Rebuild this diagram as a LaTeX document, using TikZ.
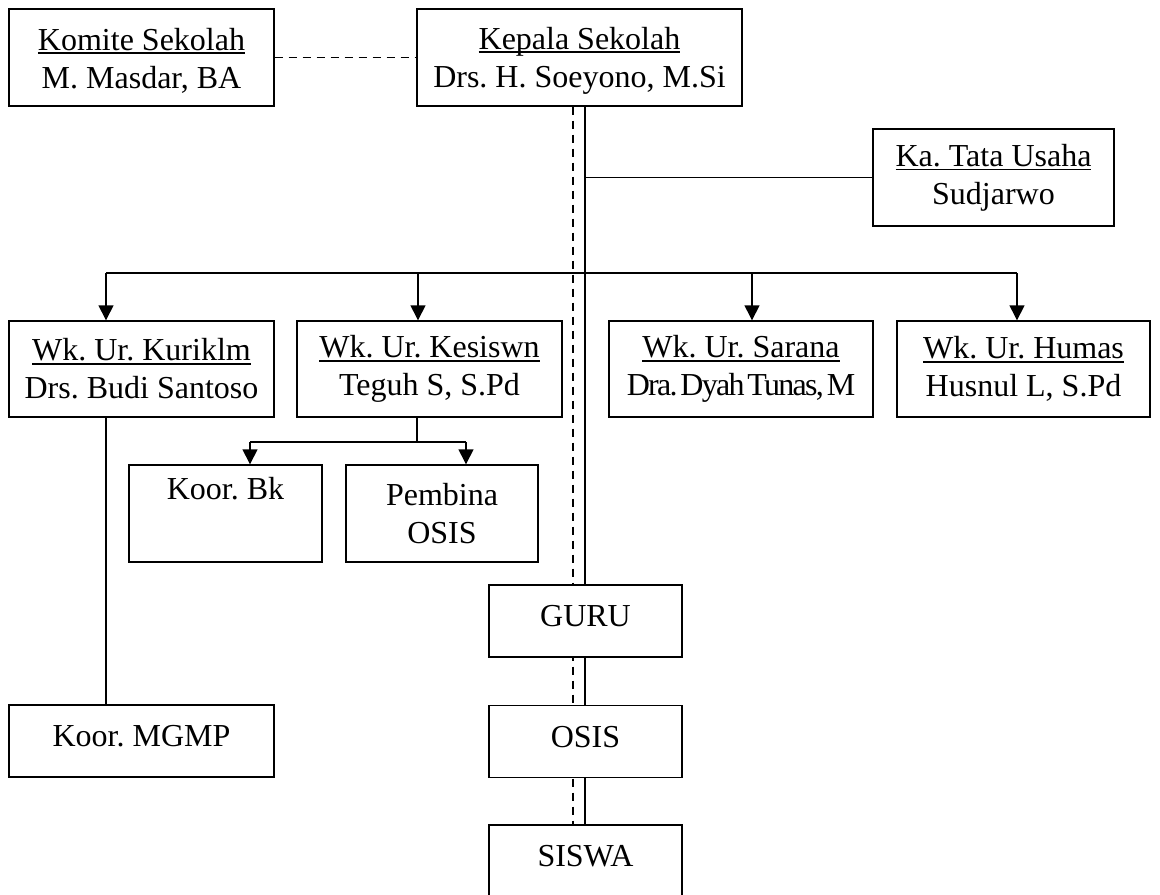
\documentclass[tikz,border=0pt]{standalone}
\usepackage{fontspec}
\usepackage{graphicx}
\setmainfont{Liberation Serif}
\usetikzlibrary{arrows.meta,backgrounds}
\newcommand\ulx[1]{\setbox0\hbox{#1}\rlap{\rule[-2pt]{\wd0}{0.8pt}}\box0}
\frenchspacing
\begin{document}
\begin{tikzpicture}[x=0.5pt,y=-0.5pt,
  box/.style={draw, line width=0.7pt, fill=white, align=center, inner sep=0pt,
    font=\fontsize{16}{19}\selectfont\frenchspacing},
  one/.style={text depth=5pt},
  sz/.style 2 args={minimum width=#1*0.5pt, minimum height=#2*0.5pt},
  ln/.style={line width=0.7pt},
  dsh/.style={line width=0.7pt, dash pattern=on 4pt off 3pt},
  arr/.style={line width=0.7pt, -{Triangle[length=7.5pt,width=7.5pt]}}
]
\useasboundingbox (0,0) rectangle (1160,894);

% boxes
\node[box, sz={265}{97}] (kom) at (141.5,57.5) {\rule{0pt}{14pt}\ulx{Komite Sekolah}\\M. Masdar, BA};
\node[box, sz={325}{97}] (kep) at (579.5,57.5) {\rule{0pt}{14pt}\ulx{Kepala Sekolah}\\Drs. H. Soeyono, M.Si};
\node[box, sz={241}{97}] (tu) at (993.5,177.5) {\ulx{Ka. Tata Usaha}\\Sudjarwo};
\node[box, sz={265}{96}] (kur) at (141.5,369) {\ulx{Wk. Ur. Kuriklm}\\Drs. Budi Santoso};
\node[box, sz={265}{96}] (kes) at (429.5,369) {\ulx{Wk. Ur. Kesiswn}\\Teguh S, S.Pd};
\node[box, sz={264}{96}] (sar) at (741,369) {\ulx{Wk. Ur. Sarana}\\{\addfontfeatures{LetterSpace=-5.5}\spaceskip=1.5pt Dra. Dyah Tunas, M}};
\node[box, sz={253}{96}] (hum) at (1023.5,369) {\ulx{Wk. Ur. Humas}\\Husnul L, S.Pd};
\node[box, sz={193}{97}] (bk) at (225.5,513.5) {Koor. Bk\\\strut};
\node[box, sz={192}{97}] (pem) at (442,513.5) {Pembina\\OSIS};
\node[box, one, sz={265}{72}] (mgmp) at (141.5,741) {Koor. MGMP};
\node[box, one, sz={193}{72}] (guru) at (585.5,621) {GURU};
\node[box, one, sz={193}{72}] (osis) at (585.5,741.5) {OSIS};
\node[box, one, sz={193}{72}] (siswa) at (585.5,861) {SISWA};

% helper coordinates
\coordinate (dx) at (573,0);
\coordinate (sx) at (585,0);
\coordinate (b1) at (106,273);
\coordinate (b2) at (418,273);
\coordinate (b3) at (752,273);
\coordinate (b4) at (1017,273);
\coordinate (kesd) at (417,442);
\coordinate (c1) at (250,442);
\coordinate (c2) at (466,442);

\begin{scope}[on background layer]
  \draw[dsh] (kom.east) -- (kep.west);
  \draw[dsh] (dx |- kep.south) -- (dx |- siswa.north);
  \draw[ln] (sx |- kep.south) -- (sx |- siswa.north);
  \draw[ln] (sx |- tu.west) -- (tu.west);
  \draw[ln] (b1) -- (b4);
  \draw[arr] (b1) -- (b1 |- kur.north);
  \draw[arr] (b2) -- (b2 |- kes.north);
  \draw[arr] (b3) -- (b3 |- sar.north);
  \draw[arr] (b4) -- (b4 |- hum.north);
  \draw[ln] (kesd |- kes.south) -- (kesd);
  \draw[ln] (c1) -- (c2);
  \draw[arr] (c1) -- (c1 |- bk.north);
  \draw[arr] (c2) -- (c2 |- pem.north);
  \draw[ln] (b1 |- kur.south) -- (b1 |- mgmp.north);
\end{scope}
\end{tikzpicture}
\end{document}
